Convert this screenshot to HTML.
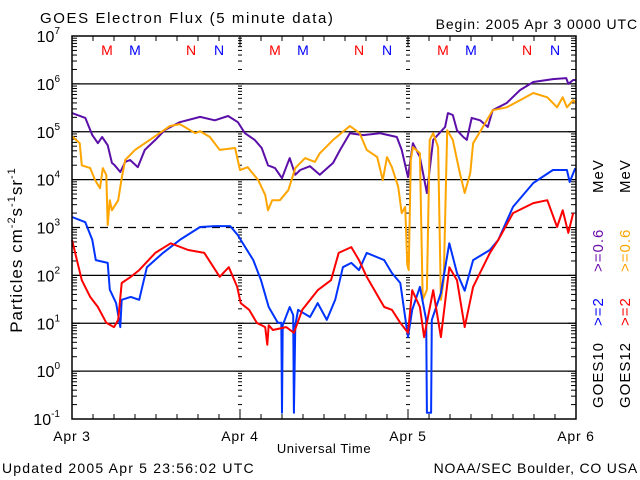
<!DOCTYPE html>
<html><head><meta charset="utf-8"><style>
html,body{margin:0;padding:0;background:#fff;}
svg{display:block;font-family:"Liberation Sans",sans-serif;}
</style></head><body>
<svg id="chart" width="640" height="480" viewBox="0 0 640 480">
<rect width="640" height="480" fill="#fff"/>
<text x="40" y="23" font-size="15" letter-spacing="1.6">GOES Electron Flux (5 minute data)</text>
<text x="638" y="29" font-size="14" letter-spacing="0.9" text-anchor="end">Begin: 2005 Apr 3 0000 UTC</text>
<text transform="translate(22,250) rotate(-90)" font-size="17" letter-spacing="1" text-anchor="middle">Particles cm<tspan dy="-7" font-size="11">-2</tspan><tspan dy="7">s</tspan><tspan dy="-7" font-size="11">-1</tspan><tspan dy="7">sr</tspan><tspan dy="-7" font-size="11">-1</tspan></text>
<text x="324" y="453" font-size="13" letter-spacing="0.6" text-anchor="middle">Universal Time</text>
<text x="2" y="473" font-size="14" letter-spacing="1.2">Updated 2005 Apr  5 23:56:02 UTC</text>
<text x="638" y="473" font-size="14" letter-spacing="0.8" text-anchor="end">NOAA/SEC Boulder, CO USA</text>
<g id="grid"></g><g id="ticks"></g><g id="series"></g><g id="marks"></g>
<rect x="72" y="36" width="504" height="383" fill="none" stroke="#000" stroke-width="1.5"/>
<g font-size="15" letter-spacing="1">
<text transform="translate(603,408) rotate(-90)">GOES10</text>
<text transform="translate(603,326) rotate(-90)" fill="#0000ff">&gt;=2</text>
<text transform="translate(603,272) rotate(-90)" fill="#6a0dad">&gt;=0.6</text>
<text transform="translate(603,193) rotate(-90)">MeV</text>
<text transform="translate(630,408) rotate(-90)">GOES12</text>
<text transform="translate(630,326) rotate(-90)" fill="#ff0000">&gt;=2</text>
<text transform="translate(630,272) rotate(-90)" fill="#ffa500">&gt;=0.6</text>
<text transform="translate(630,193) rotate(-90)">MeV</text>
</g>
</svg>
<script>
const dayLabels=["Apr 3","Apr 4","Apr 5","Apr 6"];
const yTickExp=[7,6,5,4,3,2,1,0,-1];
const purpleT=[0,1.9,2.9,3.7,4.3,5.1,5.7,6.1,6.9,7.6,8.3,9.4,10.4,11.9,13.3,15.4,18.3,20.4,22.3,23.7,24.7,26.1,27.1,28,29,30,30.7,31.1,31.9,32.6,34,35.4,37.3,38.3,39.7,41.6,44,46.4,47.1,48,48.7,49.7,50.7,51.6,53.3,53.7,54.4,55,55.9,56.4,57.1,58.3,59.4,60.1,62.1,64,65.9,68.7,70.6,70.9,71.6,72];
const purpleV=[5.39,5.29,4.93,4.76,4.89,4.72,4.35,4.3,4.16,4.37,4.41,4.26,4.62,4.83,5.04,5.2,5.31,5.24,5.33,5.2,4.97,4.83,4.66,4.3,4.24,4.03,4.3,4.45,4.1,4.2,4.28,4.1,4.35,4.62,4.97,4.93,4.97,4.89,4.62,4.05,4.76,4.47,3.72,4.83,5.1,5.39,5.35,5.03,4.89,4.83,5.29,5.24,5.1,5.45,5.6,5.87,6.04,6.1,6.12,6.0,6.08,6.08];
const orangeT=[0,1.1,1.4,2.6,3.3,4,4.4,4.9,5.1,5.4,5.7,6.6,7.1,7.6,9,11.1,14,15.4,17.6,18.3,19.7,21.1,23.3,24,25.1,26.6,27.6,28,28.6,29.7,30.9,31.9,33.3,34.7,35.4,37.3,39.7,41.1,42.1,43.6,44.4,45,45.7,46.6,47.1,47.6,47.9,48.1,48.4,48.7,49.7,50.1,50.7,51.1,51.6,52.3,52.7,53.1,53.6,54.4,55.4,56.1,56.9,57.3,58.7,60.1,62.1,64,65.9,67.9,69.3,70.1,70.7,71.6,72];
const orangeV=[4.91,4.76,4.3,4.24,3.99,3.82,4.24,4.1,3.05,3.57,3.36,3.57,4.03,4.41,4.62,4.83,5.12,5.16,4.97,5.01,4.89,4.62,4.66,4.2,4.26,3.99,3.68,3.36,3.57,3.57,3.78,4.24,4.45,4.37,4.55,4.83,5.12,4.97,4.62,4.47,3.99,4.47,4.26,3.85,3.3,3.43,2.22,2.11,4.41,4.68,4.55,1.49,1.7,4.83,4.97,4.68,1.49,1.9,5.03,4.83,4.14,3.72,4.14,4.76,5.1,5.45,5.51,5.66,5.81,5.72,5.51,5.72,5.51,5.66,5.6];
const blueT=[0,1.9,2.9,3.4,5.1,5.4,6.3,6.9,7.1,8.4,9.6,10.7,13,15.4,18.3,20.4,22.6,23.7,24.1,25.9,27,28.1,29.4,29.9,30,30.1,31.1,31.6,31.7,31.9,32.3,34,35.1,36.4,37.6,38.7,39.9,41,42.1,44.6,45.7,46.9,48,48.6,49.7,50.6,50.7,51.3,51.4,52.7,53.9,55,56.1,57.3,59.7,60.9,63,65.9,68.7,70.7,71.1,71.9];
const blueV=[3.22,3.11,2.74,2.32,2.26,1.7,1.42,0.92,1.49,1.55,1.49,2.17,2.47,2.74,3.01,3.03,3.03,2.84,2.74,2.32,1.9,1.34,1.01,1.01,-0.87,0.96,1.34,1.17,-0.87,0.96,1.28,1.13,1.42,1.07,1.49,2.17,2.26,2.11,2.47,2.32,2.05,1.84,0.71,1.28,1.76,1.07,-0.87,-0.87,1.07,1.63,2.67,2.05,1.68,2.32,2.53,2.74,3.43,3.93,4.2,4.2,3.95,4.24];
const redT=[0,1.4,2.6,3.7,4.9,6,6.6,7.1,8.4,9.6,11.9,14.1,16.6,18.9,21.1,22.4,23.6,24.1,25.3,26.4,27.6,27.9,28.1,28.7,30.6,31.7,32.9,35.1,37,38.1,39.9,41,42.1,44.6,45.7,46.9,48,48.6,49.7,50.3,51.6,52.7,53.9,55,56.1,57.3,59.7,60.9,63,65.9,67.9,69.3,70.1,70.9,71.6];
const redV=[2.74,1.9,1.55,1.34,1.01,0.92,1.07,1.84,1.97,2.11,2.47,2.67,2.53,2.47,1.97,2.17,1.76,1.42,1.28,1.01,0.92,0.55,0.96,0.86,0.92,0.8,1.28,1.69,1.9,2.47,2.59,2.32,1.97,1.34,1.28,1.01,0.8,1.69,1.34,0.71,1.69,0.71,2.17,1.9,0.92,1.76,2.47,2.74,3.3,3.51,3.57,3.01,3.36,2.89,3.3];
const markerHours=[5,9,17,21];
const markerText=["M","M","N","N"];
const markerColor=["#ff0000","#0000ff","#ff0000","#0000ff"];

const NS="http://www.w3.org/2000/svg";
const X0=72,X1=576,Y0=36,Y1=419;
function xs(h){return X0+(X1-X0)*h/72;}
function ys(v){return Y1-(Y1-Y0)*(v+1)/8;}
function mk(tag,attrs,parent){const e=document.createElementNS(NS,tag);for(const k in attrs)e.setAttribute(k,attrs[k]);parent.appendChild(e);return e;}
const grid=document.getElementById('grid'),ticks=document.getElementById('ticks'),series=document.getElementById('series'),marks=document.getElementById('marks');
yTickExp.forEach(e=>{
  const y=ys(e);
  if(e<7&&e>-1){const l=mk('line',{x1:X0,x2:X1,y1:y,y2:y,stroke:'#000','stroke-width':1.3},grid);
    if(e===3)l.setAttribute('stroke-dasharray','8,6');
    
    }
  const t=mk('text',{x:60,y:y+6,'font-size':16,'text-anchor':'end'},ticks);
  t.innerHTML='10<tspan dy="-8" font-size="10">'+e+'</tspan>';
  
  
  if(e<7){for(let m=2;m<10;m++){const yy=ys(e+Math.log10(m));
    [X0,X1-5,240,408].forEach(xx=>{const w=(xx===240||xx===408)?4:5;const x1=(xx===240||xx===408)?xx-2:xx;mk('line',{x1:x1,x2:x1+w,y1:yy,y2:yy,stroke:'#000','stroke-width':1},ticks);});}}
  [X0,X1-8,236,404].forEach(xx=>mk('line',{x1:xx,x2:xx+8,y1:y,y2:y,stroke:'#000','stroke-width':1},ticks));
});
for(let h=0;h<=72;h+=3){const x=xs(h);const L=(h%24===0)?10:5;
  mk('line',{x1:x,x2:x,y1:Y1,y2:Y1-L,stroke:'#000'},ticks);mk('line',{x1:x,x2:x,y1:Y0,y2:Y0+L,stroke:'#000'},ticks);}
dayLabels.forEach((d,i)=>{const t=mk('text',{x:xs(i*24),y:441,'font-size':14,'letter-spacing':'0.8','text-anchor':'middle'},ticks);t.textContent=d;
  
  });
function draw(T,V,color,name){const pts=T.map((t,i)=>xs(t).toFixed(1)+','+ys(V[i]).toFixed(1)).join(' ');
  const p=mk('polyline',{points:pts,fill:'none',stroke:color,'stroke-width':2,'stroke-linejoin':'round'},series);
  
  }
draw(purpleT,purpleV,'#5b0fa8','series-goes10-0.6mev');
draw(orangeT,orangeV,'#ffa500','series-goes12-0.6mev');
draw(blueT,blueV,'#0033ff','series-goes10-2mev');
draw(redT,redV,'#ff0000','series-goes12-2mev');
for(let d=0;d<3;d++){markerHours.forEach((h,i)=>{const t=mk('text',{x:xs(d*24+h),y:55,'font-size':14,'text-anchor':'middle',fill:markerColor[i]},marks);t.textContent=markerText[i];
  
  });}
</script>
</body></html>
